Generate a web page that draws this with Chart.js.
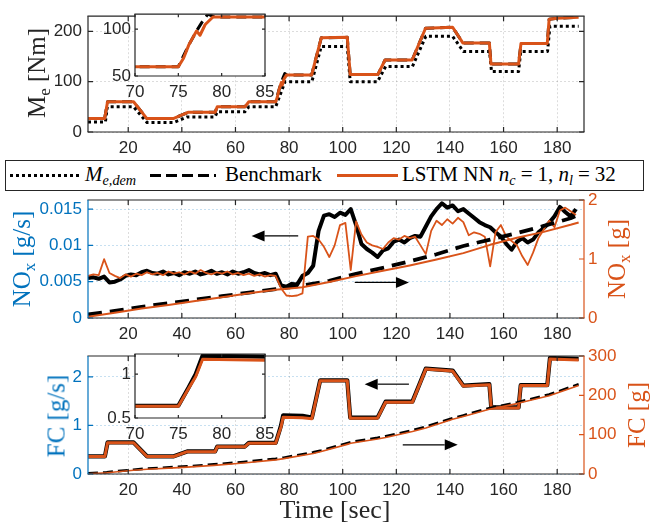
<!DOCTYPE html>
<html><head><meta charset="utf-8">
<script src="https://cdn.jsdelivr.net/npm/chart.js@4.4.1/dist/chart.umd.min.js"></script>
<style>
html,body{margin:0;padding:0;background:#fff;}
#wrap{position:relative;width:651px;height:526px;overflow:hidden;background:#fff;}
canvas{position:absolute;left:0;top:0;}
.t{position:absolute;font-family:'Liberation Serif','Times New Roman',serif;white-space:nowrap;line-height:1;}
.rot{transform:translate(-50%,-50%) rotate(-90deg);font-size:25px;}
.sub{font-size:68%;position:relative;top:0.28em;}
.i{font-style:italic;}
.eq{margin:0 5px;}
#legend{position:absolute;left:5px;top:160px;width:637px;height:29px;border:1.5px solid #262626;background:#fff;}
.lg{position:absolute;font-size:21px;top:175px;transform:translateY(-52%);}
</style></head>
<body><div id="wrap">
<canvas id="c1" width="651" height="526"></canvas>
<canvas id="i1" width="651" height="526"></canvas>
<canvas id="c2" width="651" height="526"></canvas>
<canvas id="c3" width="651" height="526"></canvas>
<canvas id="i2" width="651" height="526"></canvas>
<div id="legend"></div>
<div style="position:absolute;left:10px;top:174px;width:72px;height:3px;background:repeating-linear-gradient(90deg,#000 0 3px,transparent 3px 6px);"></div>
<div class="t lg" style="left:85px;"><span class="i">M</span><span class="sub i">e,dem</span></div>
<div style="position:absolute;left:150px;top:174px;width:66px;height:3px;background:repeating-linear-gradient(90deg,#000 0 11px,transparent 11px 16px);"></div>
<div class="t lg" style="left:225px;">Benchmark</div>
<div style="position:absolute;left:337px;top:174px;width:61px;height:2.5px;background:#D95319;"></div>
<div class="t lg" style="left:402px;">LSTM NN <span class="i">n</span><span class="sub i">c</span><span class="eq">=</span>1, <span class="i">n</span><span class="sub i">l</span><span class="eq">=</span>32</div>
<div class="t rot" style="left:36px;top:73px;color:#262626;">M<span class="sub">e</span> [Nm]</div>
<div class="t rot" style="left:21px;top:259px;color:#0072BD;">NO<span class="sub">x</span> [g/s]</div>
<div class="t rot" style="left:616px;top:259px;color:#D95319;">NO<span class="sub">x</span> [g]</div>
<div class="t rot" style="left:56px;top:416px;color:#0072BD;">FC [g/s]</div>
<div class="t rot" style="left:636px;top:415px;color:#D95319;">FC [g]</div>
<div class="t" style="left:335px;top:510px;transform:translate(-50%,-50%);font-size:26px;color:#262626;">Time [sec]</div>
</div>
<script>
// ---------- DATA ----------
const X_TICKS = [20,40,60,80,100,120,140,160,180];
const X_LABELS = ['20','40','60','80','100','120','140','160','180'];
const INSET_X_TICKS = [70,75,80,85];
const INSET_X_LABELS = ['70','75','80','85'];

// Engine torque
const ME_Y_TICKS = [0,100,200];
const ME_Y_LABELS = ['0','100','200'];
const ME_INSET_Y_TICKS = [50,100];
const ME_INSET_Y_LABELS = ['50','100'];
const tDem = [5,11.5,12.2,22,27,37,42,52.4,53.2,63.5,65,75,78.5,88.5,92,101.7,102.8,113,116,126,131,141,145,154.8,155.5,165.6,166.4,176.4,177.3,188];
const meDem = [20,20,50,50,19,19,30,30,40,40,50,50,100,100,170,170,100,100,130,130,190,190,160,160,120,120,160,160,210,210];
const tBench = [5,11.2,12.3,22,26.9,37,42.3,52.4,53.2,63.5,65,75,76.2,77.1,77.7,78.4,79.2,85,88.4,92,101.7,102.8,113.1,115.8,125.9,130.9,141,144.8,154.7,155.3,165.6,166.5,176.3,177,180,188];
const meBench = [27,27,60,60,27,27,39,39,50,50,60,60,83,98,107,116,113,113,113,187,188,114,114,143,143,206,208,177,177,135,135,176,176,224,226,228];
const tLstm = [5,11.2,12.3,22,26.9,37,42.3,52.4,53.2,63.5,65,75,75.6,76.2,77.1,77.5,78.1,79,85,88.4,92,101.7,102.8,113.1,115.8,125.9,130.9,141,144.8,154.7,155.3,165.6,166.5,176.3,177,180,188];
const meLstm = [27,27,60,60,27,27,39,39,50,50,60,60,69,83,98,93.5,105,113,113,113,187,188,114,114,143,143,206,208,177,177,135,135,176,176,224,226,228];

// NOx
const NOX_Y_TICKS = [0,0.005,0.01,0.015];
const NOX_Y_LABELS = ['0','0.005','0.01','0.015'];
const NOXC_Y_TICKS = [0,1,2];
const NOXC_Y_LABELS = ['0','1','2'];
const tNox = [5,7,9,11,13,15,17,19,21,23,25,27,29,31,33,35,37,39,41,43,45,47,49,51,53,55,57,59,61,63,65,67,69,71,73,75,77,79,81,83,85,87,89,91,93,95,97,99,101,103,105,107,109,111,113,115,117,119,121,123,125,127,129,131,133,135,137,139,141,143,145,147,149,151,153,155,157,159,161,163,165,167,169,171,173,175,177,179,181,183,185,187];
const noxBench = [0.0055,0.0056,0.0054,0.0057,0.0049,0.0050,0.0053,0.0058,0.0060,0.0059,
 0.0063,0.0065,0.0062,0.0061,0.0064,0.0060,0.0062,0.0059,0.0063,0.0061,
 0.0064,0.0060,0.0062,0.0065,0.0061,0.0063,0.0060,0.0064,0.0061,0.0063,
 0.0066,0.0062,0.0060,0.0062,0.0059,0.0061,0.0045,0.0043,0.0047,0.0046,
 0.0058,0.0062,0.0072,0.0120,0.0141,0.0143,0.0139,0.0145,0.0142,0.0150,
 0.0128,0.0102,0.0095,0.0090,0.0084,0.0093,0.0096,0.0105,0.0108,0.0104,
 0.0110,0.0113,0.0112,0.0126,0.0140,0.0150,0.0158,0.0152,0.0155,0.0147,
 0.0150,0.0144,0.0138,0.0132,0.0128,0.0125,0.0118,0.0112,0.0102,0.0094,
 0.0105,0.0110,0.0104,0.0108,0.0118,0.0124,0.0131,0.0140,0.0153,0.0146,
 0.0140,0.0150];
const noxLstm = [0.0058,0.0060,0.0059,0.0081,0.0062,0.0058,0.0055,0.0060,0.0057,0.0061,
 0.0059,0.0063,0.0060,0.0062,0.0059,0.0064,0.0061,0.0063,0.0060,0.0064,
 0.0061,0.0066,0.0062,0.0060,0.0063,0.0061,0.0064,0.0060,0.0062,0.0059,
 0.0061,0.0058,0.0060,0.0057,0.0059,0.0058,0.0041,0.0031,0.0030,0.0031,
 0.0034,0.0112,0.0113,0.0108,0.0098,0.0084,0.0100,0.0128,0.0131,0.0066,
 0.0133,0.0115,0.0104,0.0100,0.0098,0.0095,0.0104,0.0110,0.0108,0.0113,
 0.0110,0.0112,0.0100,0.0088,0.0120,0.0134,0.0128,0.0136,0.0130,0.0138,
 0.0132,0.0114,0.0118,0.0116,0.0112,0.0071,0.0118,0.0128,0.0112,0.0106,
 0.0100,0.0085,0.0073,0.0090,0.0110,0.0122,0.0134,0.0125,0.0148,0.0152,
 0.0147,0.0142];
const tNoxCum = [5,15,25,35,45,55,65,75,80,85,95,105,115,125,135,145,155,165,175,185,188];
const noxCumBench = [0.06,0.12,0.19,0.25,0.31,0.37,0.43,0.49,0.52,0.55,0.63,0.75,0.85,0.96,1.08,1.22,1.33,1.44,1.56,1.69,1.75];
const noxCumLstm = [0.02,0.09,0.16,0.22,0.29,0.35,0.42,0.48,0.50,0.52,0.61,0.71,0.80,0.89,0.99,1.10,1.24,1.36,1.46,1.58,1.62];

// Fuel consumption
const FC_Y_TICKS = [0,1,2];
const FC_Y_LABELS = ['0','1','2'];
const FCC_Y_TICKS = [0,100,200,300];
const FCC_Y_LABELS = ['0','100','200','300'];
const FC_INSET_Y_TICKS = [0.5,1];
const FC_INSET_Y_LABELS = ['0.5','1'];
const tFc = [5,11.3,12.3,22,27,37,42,52.4,53.2,63.5,65,75,76.2,77,77.8,85,88.5,91.6,101.7,102.8,113,116,126,131,141,145,154.7,155.4,165.6,166.4,176.3,177.3,188];
const fcLstm = [0.36,0.36,0.645,0.645,0.36,0.36,0.46,0.46,0.56,0.56,0.635,0.635,0.84,0.97,1.17,1.16,1.14,1.92,1.92,1.15,1.15,1.48,1.48,2.16,2.12,1.81,1.84,1.36,1.36,1.82,1.82,2.37,2.35];
const fcBench = [0.365,0.365,0.65,0.65,0.365,0.365,0.465,0.465,0.565,0.565,0.64,0.64,0.85,1.0,1.21,1.20,1.16,1.93,1.93,1.16,1.16,1.49,1.49,2.17,2.13,1.82,1.85,1.37,1.37,1.83,1.83,2.39,2.37];
const tFcCum = [5,12,22,27,37,42,52,63,75,78,89,92,102,103,113,116,126,131,141,145,155,165,177,188];
const fcCumLstm = [0.5,3,9.5,12,15.5,17.5,22,28,36,39,52,57,76,78,89,93,108,117,139,146,165,179,199,225];
const fcCumBench = [1.5,4.5,11,14,17.5,19.5,24.5,30.5,38.5,41.5,55,60,79,81,92,96,111,120,142,149,168,182,202,228];

// ---------- STYLE / HELPERS ----------
const GRAY='#262626', BLUE='#0072BD', ORANGE='#D95319';
Chart.defaults.font.family = "'Liberation Sans', Arial, sans-serif";
const pts = (xs, ys) => xs.map((x,i)=>({x, y: ys[i]}));
const setTicks = vals => s => { s.ticks = vals.map(v=>({value:v})); };
const lbl = labels => (v,i) => labels[i];
const FONT = {family:"'Liberation Sans', Arial, sans-serif", size:17};

function xScale(min,max,ticks,labels,h,grid){
  return {type:'linear',min,max,afterBuildTicks:setTicks(ticks),afterFit:s=>{s.height=h;},
    ticks:{autoSkip:false,maxRotation:0,minRotation:0,padding:6,color:GRAY,font:FONT,callback:lbl(labels)},
    grid:{display:!!grid,color:grid||'transparent',drawTicks:false,lineWidth:1},
    border:{display:false,dash:[2,2]}};
}
function yScale(pos,min,max,ticks,labels,w,color,grid,pad){
  return {type:'linear',position:pos,min,max,afterBuildTicks:setTicks(ticks),afterFit:s=>{s.width=w;},
    ticks:{autoSkip:false,padding:pad,color,font:FONT,callback:lbl(labels)},
    grid:{display:!!grid,drawOnChartArea:!!grid,color:grid||'transparent',drawTicks:false,lineWidth:1},
    border:{display:false,dash:[2,2]}};
}
function ds(data,color,width,order,yAxisID,dash){
  return {data,borderColor:color,backgroundColor:color,borderWidth:width,pointRadius:0,tension:0,
    order,yAxisID:yAxisID||'y',borderDash:dash||[],borderJoinStyle:'round',borderCapStyle:'butt',fill:false};
}

const matlabAxes = {
  id:'matlabAxes',
  beforeDraw(chart,args,o){
    if(o.bg){const a=chart.chartArea,c=chart.ctx;c.save();c.fillStyle=o.bg;c.fillRect(a.left,a.top,a.right-a.left,a.bottom-a.top);c.restore();}
  },
  afterDatasetsDraw(chart,args,o){
    const c=chart.ctx,a=chart.chartArea,L=o.tickLen||5;
    const xs=chart.scales.x, yl=chart.scales.y, yr=chart.scales.y2;
    c.save(); c.setLineDash([]); c.lineWidth=1.2;
    const line=(col,segs)=>{c.strokeStyle=col;c.beginPath();segs.forEach(p=>{c.moveTo(p[0],p[1]);c.lineTo(p[2],p[3]);});c.stroke();};
    const xt=xs.ticks.map(t=>xs.getPixelForValue(t.value));
    line(GRAY, xt.flatMap(px=>[[px,a.bottom,px,a.bottom-L],[px,a.top,px,a.top+L]]));
    const ylt=yl.ticks.map(t=>yl.getPixelForValue(t.value));
    line(o.leftColor||GRAY, ylt.map(py=>[a.left,py,a.left+L,py]));
    if(yr){const yrt=yr.ticks.map(t=>yr.getPixelForValue(t.value)); line(o.rightColor||GRAY, yrt.map(py=>[a.right,py,a.right-L,py]));}
    else line(GRAY, ylt.map(py=>[a.right,py,a.right-L,py]));
    line(GRAY, [[a.left-0.6,a.top,a.right+0.6,a.top],[a.left-0.6,a.bottom,a.right+0.6,a.bottom]]);
    line(o.leftColor||GRAY, [[a.left,a.top,a.left,a.bottom]]);
    line(o.rightColor||GRAY, [[a.right,a.top,a.right,a.bottom]]);
    (o.arrows||[]).forEach(ar=>{
      const x1=xs.getPixelForValue(ar[0]), y1=yl.getPixelForValue(ar[1]);
      const x2=xs.getPixelForValue(ar[2]), y2=yl.getPixelForValue(ar[3]);
      const ang=Math.atan2(y2-y1,x2-x1), hl=13, hw=5.5;
      const bx=x2-hl*Math.cos(ang), by=y2-hl*Math.sin(ang);
      c.strokeStyle='#000'; c.lineWidth=1.2; c.beginPath(); c.moveTo(x1,y1); c.lineTo(bx,by); c.stroke();
      c.fillStyle='#000'; c.beginPath(); c.moveTo(x2,y2);
      c.lineTo(bx+hw*Math.sin(ang), by-hw*Math.cos(ang)); c.lineTo(bx-hw*Math.sin(ang), by+hw*Math.cos(ang));
      c.closePath(); c.fill();
    });
    c.restore();
  }
};
const baseOpts = (padding, axesOpts, scales) => ({
  responsive:false, animation:false, events:[],
  layout:{padding},
  plugins:{legend:{display:false},tooltip:{enabled:false},matlabAxes:axesOpts},
  scales
});
const GRID_X='rgba(38,38,38,0.16)', GRID_Y='rgba(38,38,38,0.16)', GRID_B='rgba(0,114,189,0.22)';

// ---------- CHART 1: torque ----------
new Chart(document.getElementById('c1'),{type:'line',
  data:{datasets:[
    ds(pts(tLstm,meLstm),ORANGE,3,0),
    ds(pts(tBench,meBench),'#000',3,1,'y',[10,6]),
    ds(pts(tDem,meDem),'#000',3,2,'y',[3,3])
  ]},
  options:baseOpts({left:0,right:67,top:13,bottom:364},{},{
    x:xScale(5,190,X_TICKS,X_LABELS,30,GRID_X),
    y:yScale('left',0,230,ME_Y_TICKS,ME_Y_LABELS,88,GRAY,GRID_Y,6)
  }),plugins:[matlabAxes]});

// inset 1
new Chart(document.getElementById('i1'),{type:'line',
  data:{datasets:[
    ds(pts(tLstm,meLstm),ORANGE,3,0),
    ds(pts(tBench,meBench),'#000',3,1,'y',[10,6])
  ]},
  options:baseOpts({left:85,right:386,top:11,bottom:424},{bg:'#fff',tickLen:3},{
    x:xScale(70,85,INSET_X_TICKS,INSET_X_LABELS,26,null),
    y:yScale('left',50,116,ME_INSET_Y_TICKS,ME_INSET_Y_LABELS,50,GRAY,null,4)
  }),plugins:[matlabAxes]});

// ---------- CHART 2: NOx ----------
new Chart(document.getElementById('c2'),{type:'line',
  data:{datasets:[
    ds(pts(tNoxCum,noxCumLstm),ORANGE,2,0,'y2'),
    ds(pts(tNoxCum,noxCumBench),'#000',3.8,1,'y2',[14,8]),
    ds(pts(tNox,noxLstm),ORANGE,1.8,2,'y'),
    ds(pts(tNox,noxBench),'#000',4,3,'y')
  ]},
  options:baseOpts({left:0,right:0,top:200,bottom:178},{leftColor:BLUE,rightColor:ORANGE,
      arrows:[[83.4,0.0113,66,0.0113],[104.5,0.0049,124.7,0.0049]]},{
    x:xScale(5,190,X_TICKS,X_LABELS,30,GRID_X),
    y:yScale('left',0,0.01625,NOX_Y_TICKS,NOX_Y_LABELS,88,BLUE,GRID_B,6),
    y2:yScale('right',0,2,NOXC_Y_TICKS,NOXC_Y_LABELS,67,ORANGE,null,4)
  }),plugins:[matlabAxes]});

// ---------- CHART 3: FC ----------
new Chart(document.getElementById('c3'),{type:'line',
  data:{datasets:[
    ds(pts(tFcCum,fcCumLstm),ORANGE,1.6,0,'y2'),
    ds(pts(tFcCum,fcCumBench),'#000',2.6,1,'y2',[10,5]),
    ds(pts(tFc,fcLstm),ORANGE,3,2,'y'),
    ds(pts(tFc,fcBench),'#000',4.2,3,'y')
  ]},
  options:baseOpts({left:0,right:0,top:356,bottom:22},{leftColor:BLUE,rightColor:ORANGE,
      arrows:[[124.7,1.85,108.2,1.85],[122.4,0.6,142.9,0.6]]},{
    x:xScale(5,190,X_TICKS,X_LABELS,30,GRID_X),
    y:yScale('left',0,2.43,FC_Y_TICKS,FC_Y_LABELS,88,BLUE,GRID_B,6),
    y2:yScale('right',0,300,FCC_Y_TICKS,FCC_Y_LABELS,67,ORANGE,null,4)
  }),plugins:[matlabAxes]});

// inset 2
new Chart(document.getElementById('i2'),{type:'line',
  data:{datasets:[
    ds(pts(tFc,fcLstm),ORANGE,3,0),
    ds(pts(tFc,fcBench),'#000',4.2,1)
  ]},
  options:baseOpts({left:85,right:386,top:354,bottom:82},{bg:'#fff',tickLen:3},{
    x:xScale(70,85,INSET_X_TICKS,INSET_X_LABELS,26,null),
    y:yScale('left',0.5,1.23,FC_INSET_Y_TICKS,FC_INSET_Y_LABELS,50,GRAY,null,4)
  }),plugins:[matlabAxes]});
</script>
</body></html>
